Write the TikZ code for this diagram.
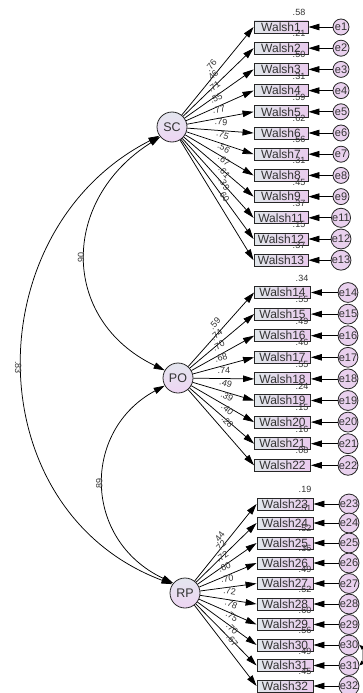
\documentclass[tikz,border=0pt]{standalone}
\usepackage{fontspec}
\setmainfont{Liberation Sans}
\usetikzlibrary{arrows.meta,shadings}
\definecolor{boxl}{HTML}{E1E7EB}
\definecolor{boxr}{HTML}{E9CBED}
\definecolor{latt}{HTML}{E3E6EE}
\definecolor{latb}{HTML}{EED5F3}
\definecolor{errf}{HTML}{E9D1EE}
\definecolor{txt}{HTML}{333333}
\begin{document}
\begin{tikzpicture}[x=1pt,y=-1pt,
  obs/.style={draw=black!85, line width=0.9pt, left color=boxl, right color=boxr,
    minimum width=#1, minimum height=12pt, inner sep=0pt, text=txt,
    font=\fontsize{12}{12}\selectfont},
  obs/.default=54pt,
  lat/.style={circle, draw=black!85, line width=0.8pt, top color=latt, bottom color=latb,
    minimum size=30pt, inner sep=0pt, text=txt, font=\fontsize{12.5}{13}\selectfont},
  err/.style={circle, draw=black!85, line width=0.8pt, fill=errf, minimum size=16pt,
    inner sep=0pt, text=txt, font=\fontsize{11}{11}\selectfont},
  par/.style={text=txt, inner sep=1pt, font=\fontsize{9}{9}\selectfont},
  ldg/.style={par, sloped, above=4pt, pos=0.5},
  arr/.style={-{Triangle[length=11pt,width=6.5pt]}, line width=0.75pt},
  carr/.style={{Triangle[length=11pt,width=6.5pt]}-{Triangle[length=11pt,width=6.5pt]}, line width=0.75pt},
]
\useasboundingbox (0,0) rectangle (362,693);

\node[lat] (SC) at (172,127) {SC};
\node[lat] (PO) at (178,378) {PO};
\node[lat] (RP) at (185,593) {RP};

% SC indicators
\foreach \n/\y/\ld/\rs in {1/27/.76/.58, 2/48.2/.46/.21, 3/69.4/.71/.50, 4/90.6/.55/.31,
  5/111.8/.77/.59, 6/133/.79/.62, 7/154.2/.75/.56, 8/175.4/.56/.31, 9/196.6/.67/.45,
  11/217.8/.61/.37, 12/239/.39/.15, 13/260.2/.60/.37}{
  \node[obs] (W\n) at (281,\y) {Walsh\n};
  \node[err] (e\n) at (341,\y) {e\n};
  \node[par] (r\n) at (299,\y-14.5) {\rs};
  \draw[arr] (e\n) -- (W\n.east);
  \draw[arr] (SC) -- node[ldg] (l\n) {\ld} (W\n.west);
}

% PO indicators
\foreach \n/\y/\ld/\rs in {14/292.5/.59/.34, 15/314.1/.74/.55, 16/335.7/.70/.49,
  17/357.3/.68/.46, 18/378.9/.74/.55, 19/400.5/.49/.24, 20/422.1/.39/.15,
  21/443.7/.40/.16, 22/465.3/.28/.08}{
  \node[obs=56pt] (W\n) at (282.5,\y) {Walsh\n};
  \node[err] (e\n) at (348,\y) {e\n};
  \node[par] (r\n) at (302,\y-14.5) {\rs};
  \draw[arr] (e\n) -- (W\n.east);
  \draw[arr] (PO) -- node[ldg] (l\n) {\ld} (W\n.west);
}

% RP indicators
\foreach \n/\y/\ld/\rs in {23/504/.44/.19, 24/523/.72/.51, 25/543/.72/.52,
  26/563/.60/.36, 27/583.5/.70/.49, 28/604/.72/.52, 29/624.5/.78/.60,
  30/645/.75/.56, 31/665.5/.70/.49, 32/686/.67/.45}{
  \node[obs=56pt] (W\n) at (285,\y) {Walsh\n};
  \node[err] (e\n) at (349,\y) {e\n};
  \node[par] (r\n) at (305,\y-14.5) {\rs};
  \draw[arr] (e\n) -- (W\n.east);
  \draw[arr] (RP) -- node[ldg] (l\n) {\ld} (W\n.west);
}

% covariances between factors
\draw[carr] (SC.220) .. controls (60,200) and (60,320) ..
  node[par, pos=0.5, anchor=south, rotate=90] (c90) {.90} (PO.150);
\draw[carr] (SC.215) .. controls (-25,230) and (-25,510) ..
  node[par, pos=0.5, anchor=north, rotate=-90] (c83) {.83} (RP.145);
\draw[carr] (PO.210) .. controls (82,430) and (82,540) ..
  node[par, pos=0.5, anchor=south, rotate=90] (c89) {.89} (RP.140);

% error covariance
\draw[{Triangle[length=5pt,width=4pt]}-{Triangle[length=5pt,width=4pt]}, line width=0.75pt]
  (e30.east) .. controls (363,648) and (363,662) .. (e31.east);
\end{tikzpicture}
\end{document}
